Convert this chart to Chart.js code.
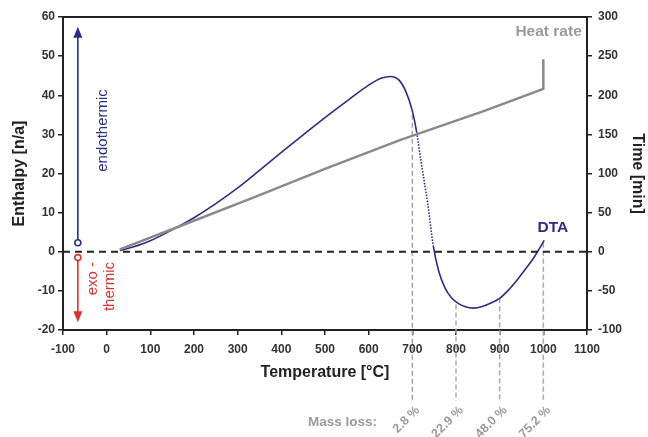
<!DOCTYPE html>
<html>
<head>
<meta charset="utf-8">
<script src="https://cdn.jsdelivr.net/npm/chart.js@4.4.1/dist/chart.umd.min.js"></script>
<style>
  html, body { margin: 0; padding: 0; background: #fff; }
</style>
</head>
<body>
<canvas id="dtaChart" width="648" height="437"></canvas>
<script>
// DTA curve (temperature in °C, enthalpy n/a)
const dtaTemp = [30, 60, 100, 150, 200, 250, 300, 350, 400, 450, 500, 550, 600, 630, 650, 670, 685, 700,
                 710, 720, 735, 748, 760, 775, 790, 805, 820, 840, 860, 880, 900, 920, 940, 960, 980, 1002];
const dtaEnthalpy = [0.3, 1.2, 2.8, 5.6, 8.7, 12.3, 16.3, 20.8, 25.4, 29.9, 34.3, 38.5, 42.6, 44.4, 44.8, 43.8, 41.0, 36.0,
                     30.5, 23.0, 12.5, 1.5, -4.8, -9.3, -11.8, -13.2, -14.0, -14.4, -14.0, -13.1, -11.9, -9.8, -7.2, -4.3, -1.2, 2.9];

// heat rate (temperature in °C, time in min)
const heatTemp = [30, 160, 330, 500, 673, 865, 1000, 1000];
const heatTime = [3, 31, 68, 106, 143, 180, 208, 246];

// mass loss markers
const massLossTemp = [700, 800, 900, 1000];
const massLossTop = [35, -13.5, -11.9, 2.3];
const massLossLabels = ["2.8 %", "22.9 %", "48.0 %", "75.2 %"];

// axes
const xTicks = { min: -100, max: 1100, step: 100 };
const yTicks = { min: -20, max: 60, step: 10 };
const y2Ticks = { min: -100, max: 300, step: 50 };

const FONT = '"Liberation Sans", Arial, sans-serif';
const AXIS = '#222';
const BLUE = '#2d2d85';
const RED = '#d8322d';
const GRAY = '#9a9a9a';

const pts = (xs, ys) => xs.map((v, i) => ({ x: v, y: ys[i] }));

const extras = {
  id: 'extras',
  beforeDatasetsDraw(chart) {
    const { ctx, chartArea: a, scales: { x, y } } = chart;
    ctx.save();
    // mass loss guide lines
    ctx.strokeStyle = '#a8a8a8';
    ctx.lineWidth = 1.5;
    ctx.setLineDash([5, 3]);
    massLossTemp.forEach((t, i) => {
      const px = x.getPixelForValue(t);
      ctx.beginPath();
      ctx.moveTo(px, y.getPixelForValue(massLossTop[i]));
      ctx.lineTo(px, a.bottom + 71);
      ctx.stroke();
    });
    ctx.restore();
  },
  afterDatasetsDraw(chart) {
    const { ctx, chartArea: a, scales: { x, y } } = chart;
    ctx.save();

    // top border
    ctx.strokeStyle = AXIS;
    ctx.lineWidth = 2;
    ctx.beginPath();
    ctx.moveTo(a.left - 1, a.top);
    ctx.lineTo(a.right + 1, a.top);
    ctx.stroke();

    // endo / exo arrows
    const ax = x.getPixelForValue(-66);
    function arrow(color, from, to) {
      const y0 = y.getPixelForValue(from), y1 = y.getPixelForValue(to);
      const dir = y1 < y0 ? -1 : 1;
      ctx.strokeStyle = color;
      ctx.fillStyle = color;
      ctx.lineWidth = 1.6;
      ctx.beginPath();
      ctx.moveTo(ax, y0 + dir * 3);
      ctx.lineTo(ax, y1 - dir * 10);
      ctx.stroke();
      ctx.beginPath();
      ctx.moveTo(ax, y1);
      ctx.lineTo(ax - 4.5, y1 - dir * 11);
      ctx.lineTo(ax + 4.5, y1 - dir * 11);
      ctx.closePath();
      ctx.fill();
      ctx.fillStyle = '#fff';
      ctx.beginPath();
      ctx.arc(ax, y0, 3, 0, Math.PI * 2);
      ctx.fill();
      ctx.stroke();
    }
    arrow(BLUE, 2.3, 57.5);
    arrow(RED, -1.5, -18);

    // rotated side texts
    function vText(str, px, py, align, color, font, angle) {
      ctx.save();
      ctx.translate(px, py);
      ctx.rotate(angle);
      ctx.fillStyle = color;
      ctx.font = font;
      ctx.textAlign = align;
      ctx.textBaseline = 'alphabetic';
      ctx.fillText(str, 0, 0);
      ctx.restore();
    }
    vText('endothermic', x.getPixelForValue(0.5), y.getPixelForValue(31), 'center', BLUE, '15px ' + FONT, -Math.PI / 2);
    vText('exo -', x.getPixelForValue(-22), y.getPixelForValue(-2.6), 'right', RED, '15px ' + FONT, -Math.PI / 2);
    vText('thermic', x.getPixelForValue(16.5), y.getPixelForValue(-2.6), 'right', RED, '15px ' + FONT, -Math.PI / 2);

    // series labels
    ctx.font = 'bold 15.5px ' + FONT;
    ctx.textBaseline = 'middle';
    ctx.fillStyle = GRAY;
    ctx.textAlign = 'right';
    ctx.fillText('Heat rate', x.getPixelForValue(1088), y.getPixelForValue(56.2));
    ctx.fillStyle = BLUE;
    ctx.textAlign = 'center';
    ctx.fillText('DTA', x.getPixelForValue(1022), y.getPixelForValue(6.2));

    // axis titles
    ctx.fillStyle = AXIS;
    ctx.font = 'bold 16px ' + FONT;
    ctx.textAlign = 'center';
    ctx.fillText('Temperature [°C]', (a.left + a.right) / 2, a.bottom + 43);
    vText('Enthalpy [n/a]', 24, (a.top + a.bottom) / 2, 'center', AXIS, 'bold 16px ' + FONT, -Math.PI / 2);
    vText('Time [min]', 633, (a.top + a.bottom) / 2, 'center', AXIS, 'bold 16px ' + FONT, Math.PI / 2);

    // mass loss labels
    ctx.fillStyle = GRAY;
    ctx.font = 'bold 13.5px ' + FONT;
    ctx.textAlign = 'left';
    ctx.textBaseline = 'middle';
    ctx.fillText('Mass loss:', 308, a.bottom + 92);
    ctx.font = 'bold 12.5px ' + FONT;
    massLossTemp.forEach((t, i) => {
      ctx.save();
      ctx.translate(x.getPixelForValue(t) + 1, a.bottom + 74);
      ctx.rotate(-Math.PI / 4);
      ctx.textAlign = 'right';
      ctx.textBaseline = 'top';
      ctx.fillText(massLossLabels[i], 0, 0);
      ctx.restore();
    });

    ctx.restore();
  }
};

const tickFont = { family: FONT, size: 12, weight: 'bold' };
const plain = v => String(v);

new Chart(document.getElementById('dtaChart'), {
  type: 'line',
  data: {
    datasets: [
      {
        label: 'zero',
        data: pts([xTicks.min, xTicks.max], [0, 0]),
        borderColor: AXIS,
        borderWidth: 2,
        borderDash: [7, 5],
        pointRadius: 0,
        yAxisID: 'y'
      },
      {
        label: 'Heat rate',
        data: pts(heatTemp, heatTime),
        borderColor: '#8a8a8a',
        borderWidth: 2.5,
        pointRadius: 0,
        yAxisID: 'y2'
      },
      {
        label: 'DTA',
        data: pts(dtaTemp, dtaEnthalpy),
        borderColor: BLUE,
        borderWidth: 1.6,
        pointRadius: 0,
        cubicInterpolationMode: 'monotone',
        segment: {
          borderDash: c => (c.p0.parsed.x >= 710 && c.p1.parsed.x <= 748) ? [1.5, 1.5] : undefined
        },
        yAxisID: 'y'
      }
    ]
  },
  options: {
    responsive: false,
    animation: false,
    events: [],
    layout: { padding: { top: 17, left: 0, right: 0, bottom: 0 } },
    plugins: { legend: { display: false }, tooltip: { enabled: false } },
    scales: {
      x: {
        type: 'linear',
        min: xTicks.min, max: xTicks.max,
        ticks: { stepSize: xTicks.step, color: '#333', font: tickFont, padding: 7, maxRotation: 0, callback: plain },
        grid: { drawOnChartArea: false, drawTicks: true, tickLength: 5, color: AXIS, lineWidth: 1.5 },
        border: { display: true, color: AXIS, width: 2 },
        afterFit: s => { s.height = 437 - 330; }
      },
      y: {
        position: 'left',
        min: yTicks.min, max: yTicks.max,
        ticks: { stepSize: yTicks.step, color: '#333', font: tickFont, padding: 3, callback: plain },
        grid: { drawOnChartArea: false, drawTicks: true, tickLength: 5, color: AXIS, lineWidth: 1.5 },
        border: { display: true, color: AXIS, width: 2 },
        afterFit: s => { s.width = 63; }
      },
      y2: {
        position: 'right',
        min: y2Ticks.min, max: y2Ticks.max,
        ticks: { stepSize: y2Ticks.step, color: '#333', font: tickFont, padding: 6, callback: plain },
        grid: { drawOnChartArea: false, drawTicks: true, tickLength: 5, color: AXIS, lineWidth: 1.5 },
        border: { display: true, color: AXIS, width: 2 },
        afterFit: s => { s.width = 648 - 587; }
      }
    }
  },
  plugins: [extras]
});
</script>
</body>
</html>
